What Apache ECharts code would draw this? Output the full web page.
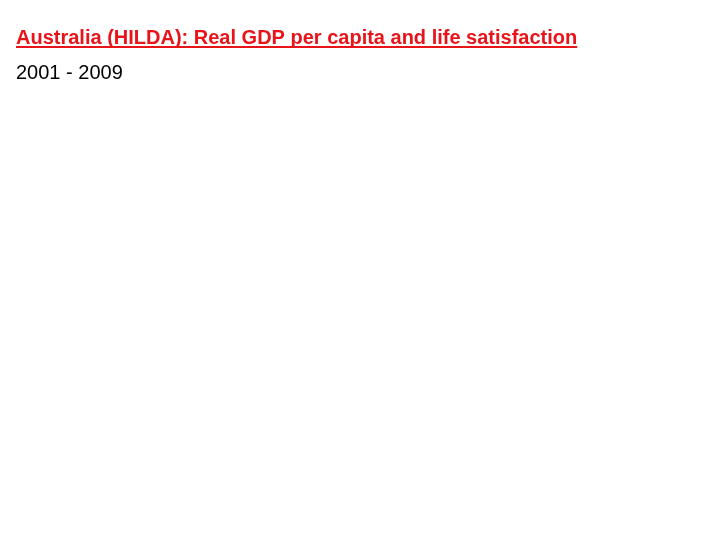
<!DOCTYPE html>
<html>
<head>
<meta charset="utf-8">
<script src="https://cdn.jsdelivr.net/npm/echarts@6/dist/echarts.min.js"></script>
<style>html,body{margin:0;padding:0;background:#fff;}#c{width:720px;height:540px;}</style>
</head>
<body>
<div id="c"></div>
<script>
const titleText = "Australia (HILDA): Real GDP per capita and life satisfaction";
const subtitleText = "2001 - 2009";

const chart = echarts.init(document.getElementById('c'));
const fontFam = '"Liberation Sans", Arial, sans-serif';
const titleSize = 20;
const ctx = document.createElement('canvas').getContext('2d');
ctx.font = 'bold ' + titleSize + 'px ' + fontFam;
const tw = ctx.measureText(titleText).width;

chart.setOption({
  backgroundColor: '#ffffff',
  animation: false,
  title: [
    { text: titleText, left: 16, top: 28, padding: 0,
      textStyle: { fontFamily: fontFam, fontWeight: 'bold', fontSize: titleSize, color: '#e8141a' } },
    { text: subtitleText, left: 16, top: 63, padding: 0,
      textStyle: { fontFamily: fontFam, fontWeight: 'normal', fontSize: 20, color: '#000000' } }
  ],
  graphic: [
    { type: 'rect', left: 16, top: 46, shape: { width: tw, height: 2 }, style: { fill: '#e8141a' } }
  ]
});
</script>
</body>
</html>
